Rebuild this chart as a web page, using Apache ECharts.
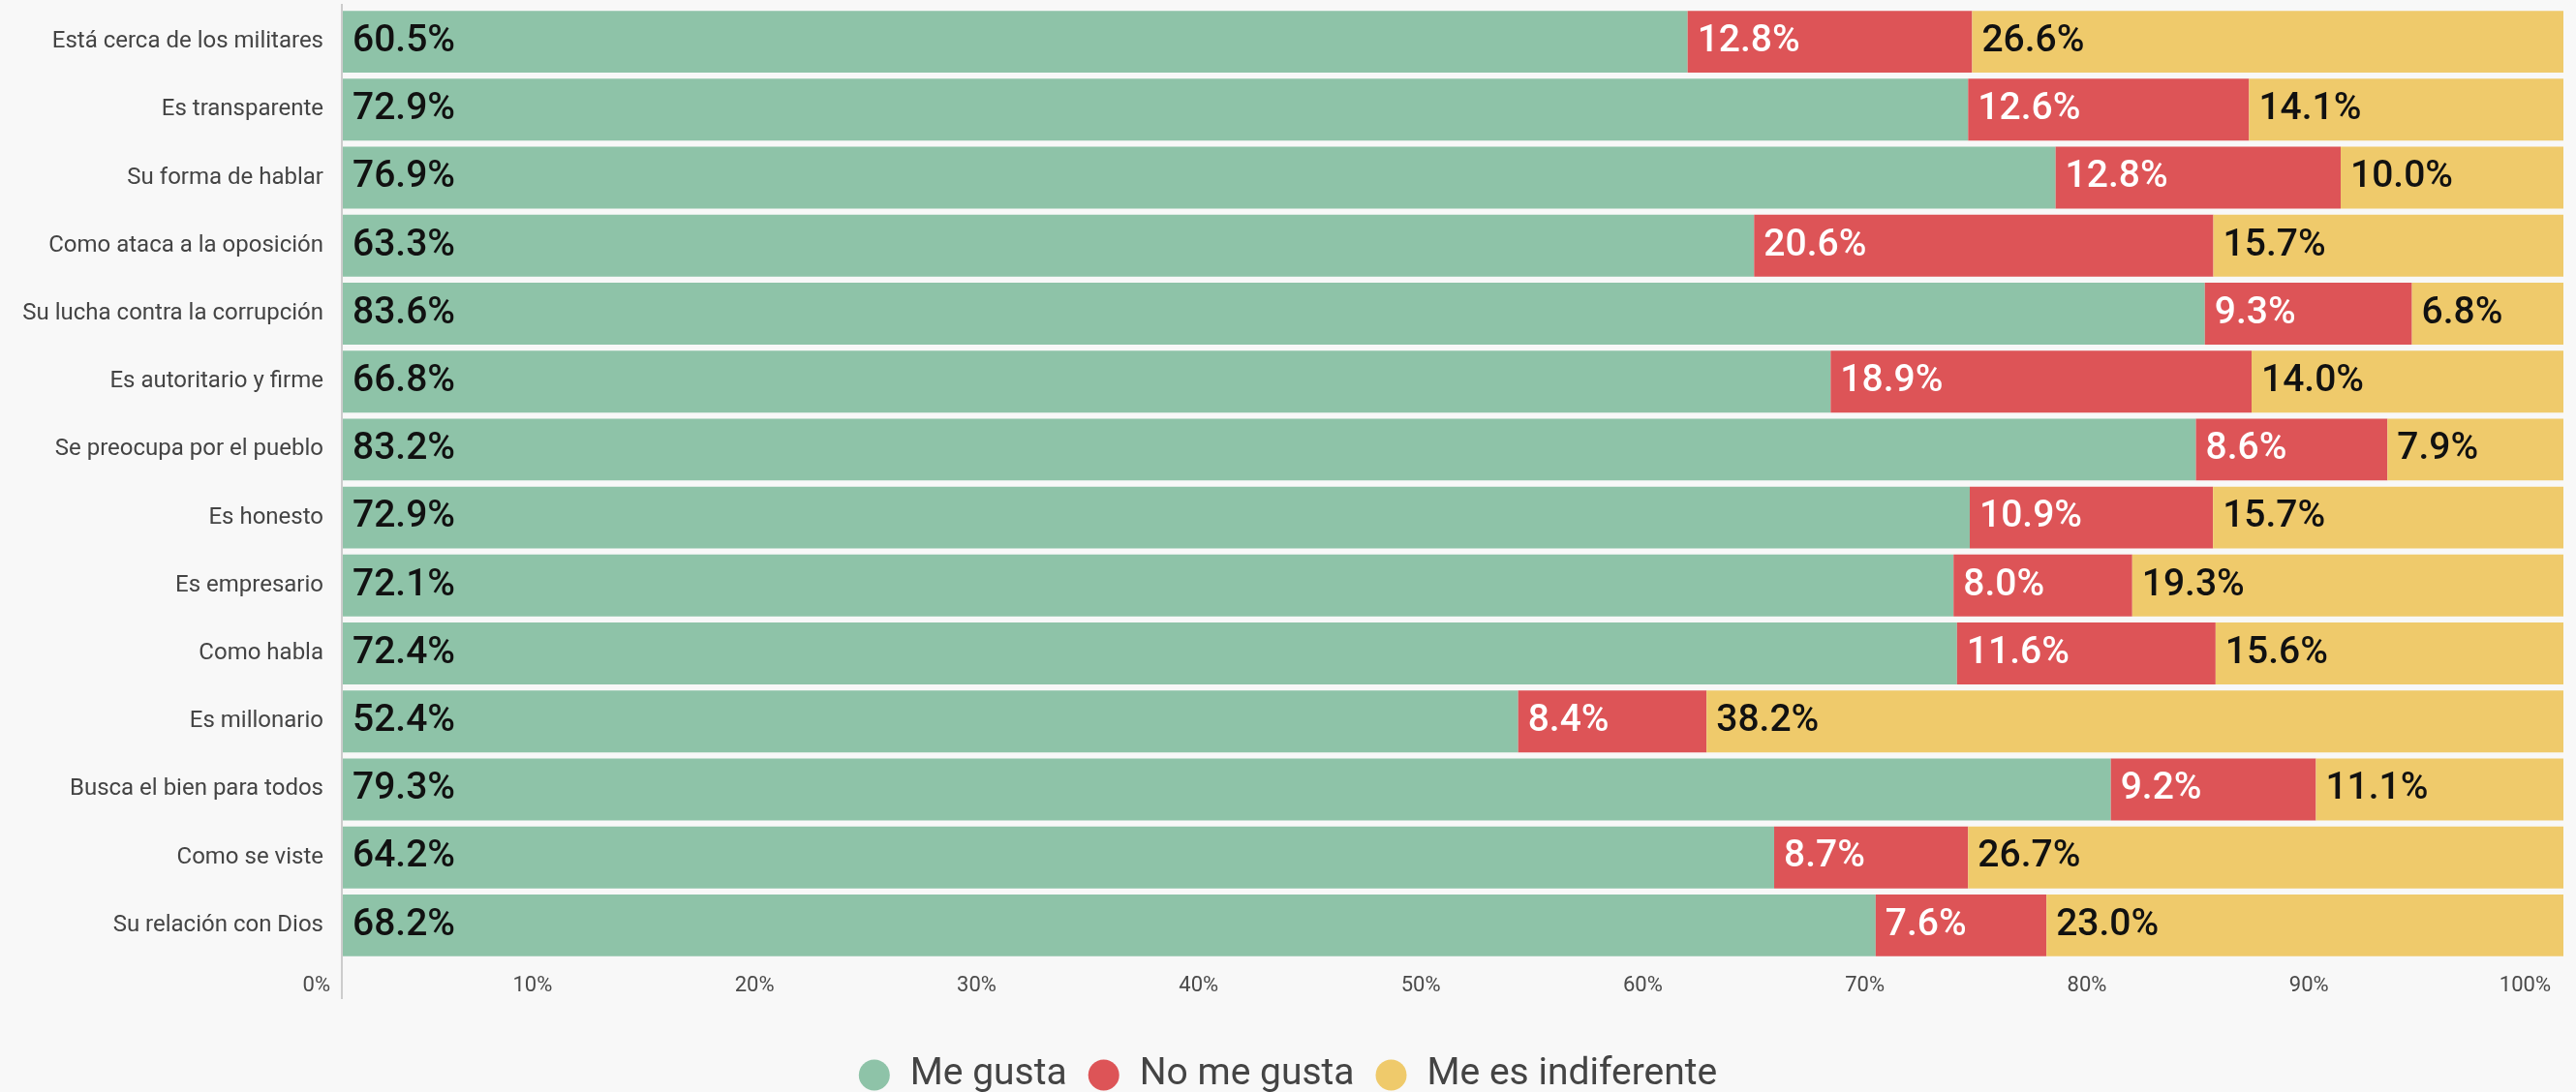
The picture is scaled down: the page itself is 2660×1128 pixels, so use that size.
<!DOCTYPE html>
<html>
<head>
<meta charset="utf-8">
<script src="https://cdn.jsdelivr.net/npm/echarts@6/dist/echarts.min.js"></script>
<style>
  html, body { margin: 0; padding: 0; background: #f8f8f8; }
  #chart { width: 2660px; height: 1128px; }
</style>
</head>
<body>
<div id="chart"></div>
<script>
// Survey answers per trait, top to bottom
const categories = [
  'Está cerca de los militares',
  'Es transparente',
  'Su forma de hablar',
  'Como ataca a la oposición',
  'Su lucha contra la corrupción',
  'Es autoritario y firme',
  'Se preocupa por el pueblo',
  'Es honesto',
  'Es empresario',
  'Como habla',
  'Es millonario',
  'Busca el bien para todos',
  'Como se viste',
  'Su relación con Dios'
];
const meGusta     = [60.5, 72.9, 76.9, 63.3, 83.6, 66.8, 83.2, 72.9, 72.1, 72.4, 52.4, 79.3, 64.2, 68.2];
const noMeGusta   = [12.8, 12.6, 12.8, 20.6,  9.3, 18.9,  8.6, 10.9,  8.0, 11.6,  8.4,  9.2,  8.7,  7.6];
const indiferente = [26.6, 14.1, 10.0, 15.7,  6.8, 14.0,  7.9, 15.7, 19.3, 15.6, 38.2, 11.1, 26.7, 23.0];
const seriesNames = ['Me gusta', 'No me gusta', 'Me es indiferente'];
const xTicks = [0, 10, 20, 30, 40, 50, 60, 70, 80, 90, 100];

const colors = ['#8ec3a8', '#dd5457', '#efca6b'];
const labelColors = ['#111111', '#ffffff', '#111111'];
const FONT = 'Roboto, "Noto Sans", sans-serif';

// Each row is drawn as a share of its own total (100% stacked), labels keep the raw value
const rowTotals = categories.map((_, i) => meGusta[i] + noMeGusta[i] + indiferente[i]);
function toShares(arr) {
  return arr.map((v, i) => ({ value: v / rowTotals[i] * 100, raw: v }));
}
const groups = [meGusta, noMeGusta, indiferente];

const chart = echarts.init(document.getElementById('chart'), null, { renderer: 'canvas' });

const option = {
  backgroundColor: '#f8f8f8',
  animation: false,
  textStyle: { fontFamily: FONT },
  grid: { left: 354, right: 13, top: 8, bottom: 137, containLabel: false },
  legend: {
    data: seriesNames,
    top: 1091,
    left: 'center',
    padding: 0,
    icon: 'circle',
    itemWidth: 32,
    itemHeight: 32,
    itemGap: 22,
    textStyle: { fontSize: 39, lineHeight: 34, color: '#444444', fontFamily: FONT, padding: [0, 0, 0, 16] }
  },
  xAxis: {
    type: 'value',
    min: xTicks[0],
    max: xTicks[xTicks.length - 1],
    interval: 10,
    axisLine: { show: false },
    axisTick: { show: false },
    splitLine: { show: false },
    axisLabel: {
      formatter: v => v + '%',
      fontSize: 22,
      color: '#4a4a4a',
      align: 'right',
      padding: [0, 13, 0, 0],
      margin: 16,
      fontFamily: FONT
    }
  },
  yAxis: {
    type: 'category',
    data: categories,
    inverse: true,
    axisLine: { show: false },
    axisTick: { show: false },
    axisLabel: { fontSize: 24, color: '#444444', margin: 20, fontFamily: FONT }
  },
  series: seriesNames.map((name, k) => ({
    name: name,
    type: 'bar',
    stack: 'total',
    barCategoryGap: '9%',
    itemStyle: { color: colors[k] },
    label: {
      show: true,
      position: 'insideLeft',
      distance: 10,
      fontSize: 39,
      fontWeight: 500,
      color: labelColors[k],
      fontFamily: FONT,
      formatter: p => p.data.raw.toFixed(1) + '%'
    },
    emphasis: { disabled: true },
    data: toShares(groups[k])
  }))
};

chart.setOption(option);

// Vertical baseline at 0%, running a little past the plot area
const x0 = chart.convertToPixel({ xAxisIndex: 0 }, 0);
const gridRect = chart.getModel().getComponent('grid').coordinateSystem.getRect();
chart.setOption({
  graphic: [{
    type: 'line',
    shape: { x1: x0 - 1, y1: gridRect.y - 4, x2: x0 - 1, y2: gridRect.y + gridRect.height + 41 },
    style: { stroke: '#cccccc', lineWidth: 2 },
    z: 10
  }]
});
</script>
</body>
</html>
